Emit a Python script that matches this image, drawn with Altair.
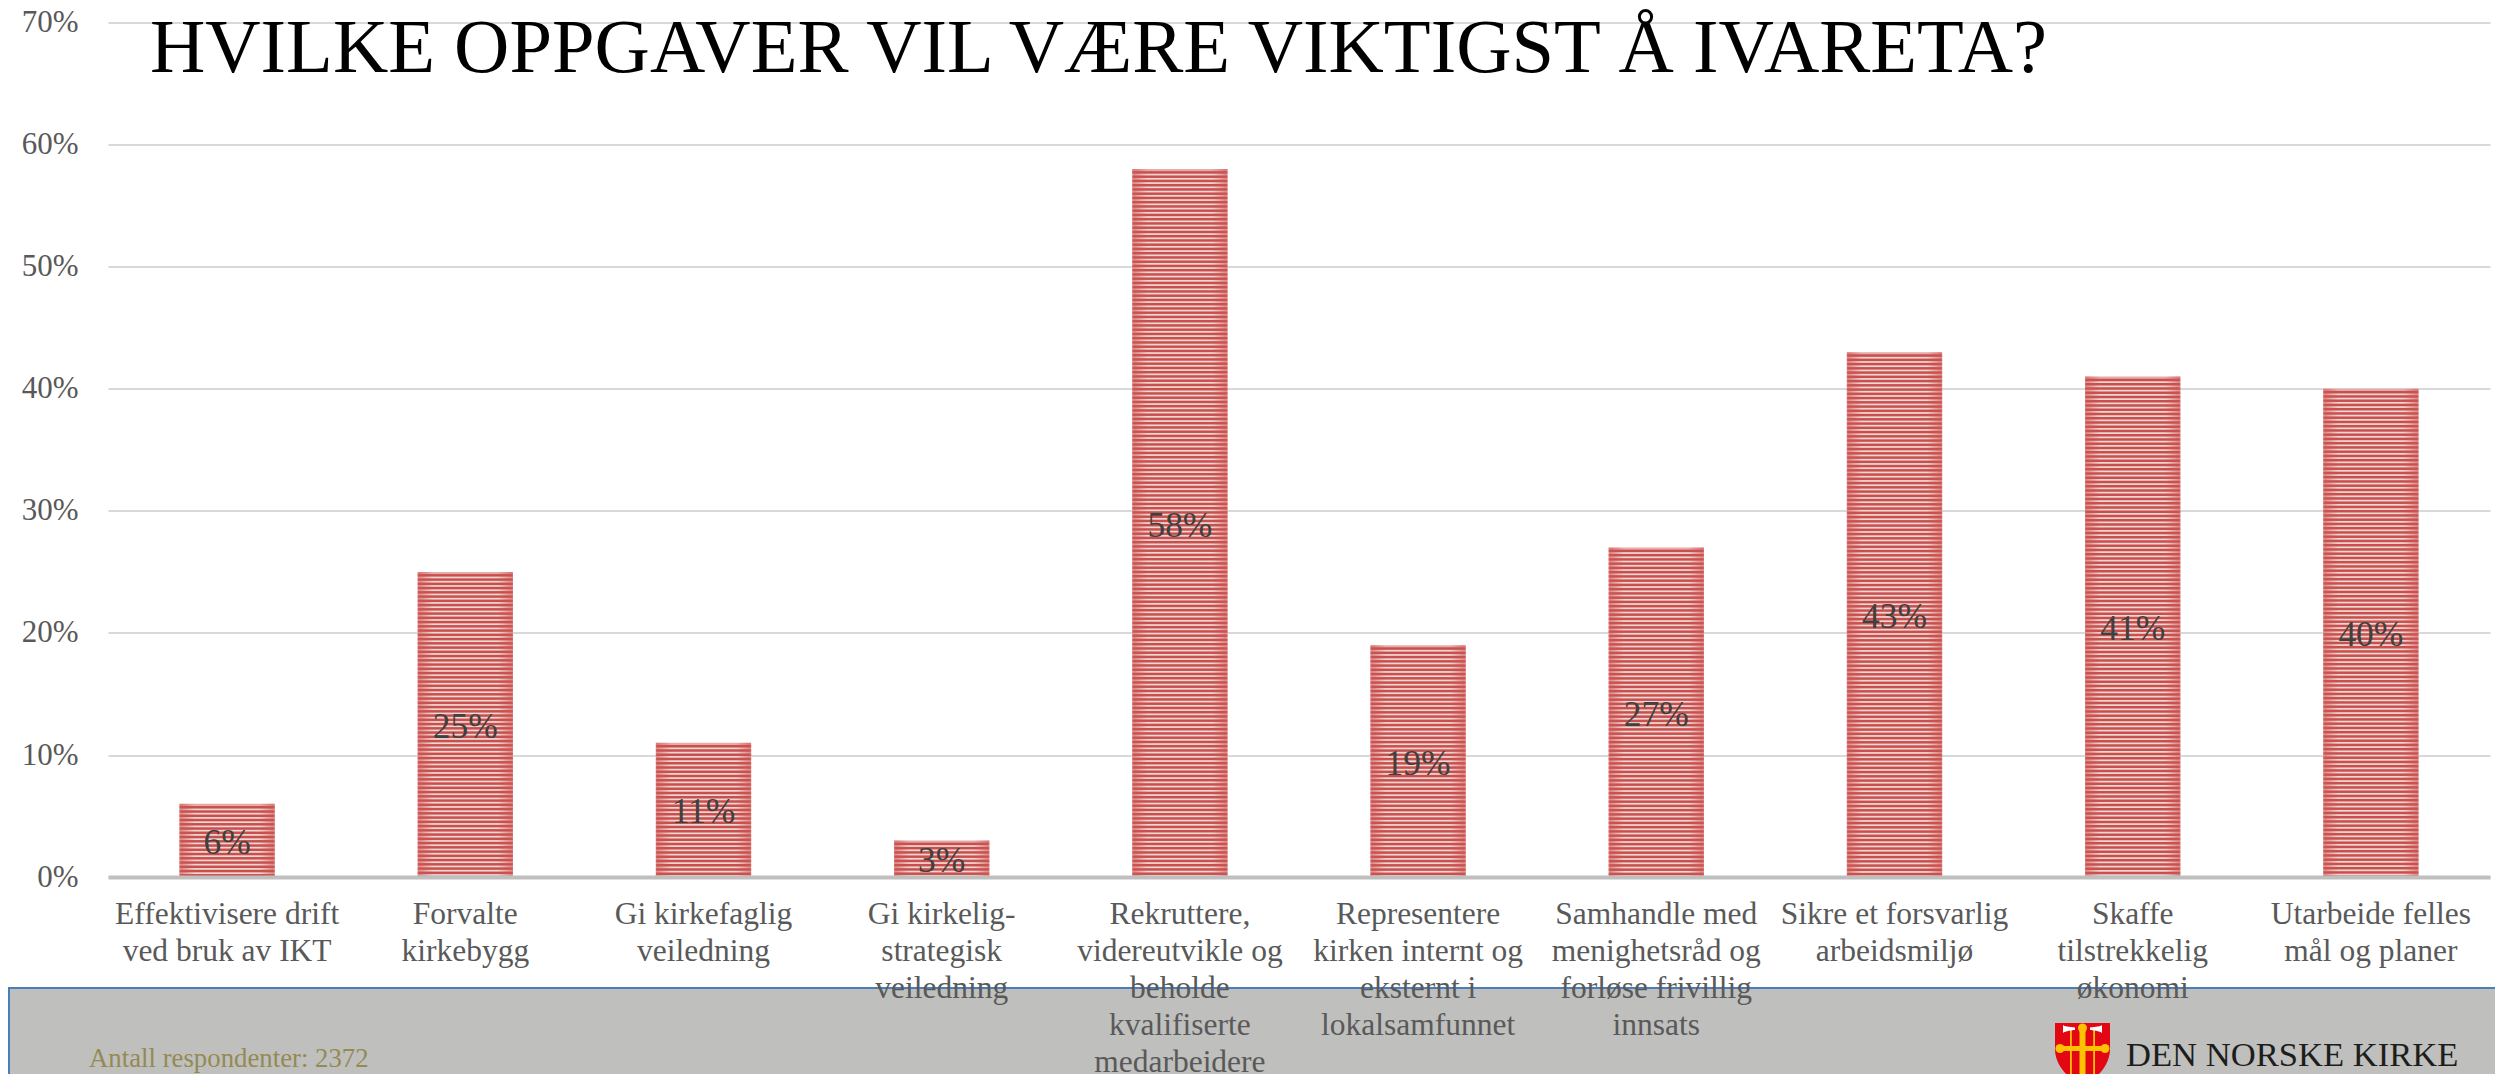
import altair as alt
import pandas as pd
from urllib.parse import quote

categories = [
    "Effektivisere drift\nved bruk av IKT",
    "Forvalte\nkirkebygg",
    "Gi kirkefaglig\nveiledning",
    "Gi kirkelig-\nstrategisk\nveiledning",
    "Rekruttere,\nvidereutvikle og\nbeholde\nkvalifiserte\nmedarbeidere",
    "Representere\nkirken internt og\neksternt i\nlokalsamfunnet",
    "Samhandle med\nmenighetsråd og\nforløse frivillig\ninnsats",
    "Sikre et forsvarlig\narbeidsmiljø",
    "Skaffe\ntilstrekkelig\nøkonomi",
    "Utarbeide felles\nmål og planer",
]
values = [0.06, 0.25, 0.11, 0.03, 0.58, 0.19, 0.27, 0.43, 0.41, 0.40]
title_text = "HVILKE OPPGAVER VIL VÆRE VIKTIGST Å IVARETA?"
footer_text = "Antall respondenter: 2372"
logo_text = "DEN NORSKE KIRKE"

LEFT, TOP, W, H = 108, 22.5, 2382, 854.6
SERIF = "Liberation Serif"


def px(x):
    return x - LEFT


def py(y):
    return y - TOP


df = pd.DataFrame({"cat": categories, "val": values})

x_enc = alt.X(
    "cat:N",
    sort=None,
    title=None,
    scale=alt.Scale(paddingInner=0.6, paddingOuter=0.3),
    axis=alt.Axis(
        labelAngle=0,
        labelExpr="split(datum.label, '\\n')",
        labelFont=SERIF,
        labelFontSize=31.5,
        labelColor="#595959",
        labelLineHeight=37,
        labelPadding=21.5,
        labelLimit=0,
        labelOverlap=False,
        ticks=False,
        domainColor="#bfbfbf",
        domainWidth=4,
        grid=False,
        zindex=1,
    ),
)
y_enc = alt.Y(
    "val:Q",
    title=None,
    scale=alt.Scale(domain=[0, 0.7], nice=False),
    axis=alt.Axis(
        values=[0, 0.1, 0.2, 0.3, 0.4, 0.5, 0.6, 0.7],
        format=".0%",
        labelFont=SERIF,
        labelFontSize=31,
        labelColor="#595959",
        labelPadding=30,
        ticks=False,
        domain=False,
        gridColor="#d9d9d9",
        gridWidth=2,
    ),
)


def stripe_gradient(v):
    h = v / 0.7 * H
    period, dark, soft = 4.25, 2.5, 0.5
    light_col, dark_col = "#efd6d0", "#c94f4f"
    cap = 2.2

    def off(p):
        return min(p / h, 1)

    stops = [
        alt.GradientStop(offset=0, color="#e6aaa8"),
        alt.GradientStop(offset=off(cap - soft), color="#e6aaa8"),
    ]
    pos = cap
    while pos < h:
        stops += [
            alt.GradientStop(offset=off(pos + soft), color=dark_col),
            alt.GradientStop(offset=off(pos + dark - soft), color=dark_col),
            alt.GradientStop(offset=off(pos + dark + soft), color=light_col),
            alt.GradientStop(offset=off(pos + period - soft), color=light_col),
        ]
        pos += period
    return alt.Gradient(gradient="linear", x1=0, x2=0, y1=0, y2=1, stops=stops)


edge_gradient = alt.Gradient(
    gradient="linear",
    x1=0,
    x2=1,
    y1=0,
    y2=0,
    stops=[
        alt.GradientStop(offset=0, color="rgba(214,110,108,0.65)"),
        alt.GradientStop(offset=0.02, color="rgba(205,85,83,0.55)"),
        alt.GradientStop(offset=0.16, color="rgba(205,85,83,0)"),
        alt.GradientStop(offset=0.84, color="rgba(205,85,83,0)"),
        alt.GradientStop(offset=0.98, color="rgba(205,85,83,0.55)"),
        alt.GradientStop(offset=1, color="rgba(214,110,108,0.65)"),
    ],
)

shield_svg = (
    "<svg xmlns='http://www.w3.org/2000/svg' viewBox='0 0 55 64'>"
    "<path d='M0 0H55V26C55 44 40 56 27.5 64C15 56 0 44 0 26Z' fill='#e30613'/>"
    "<rect x='24.5' y='3' width='6' height='61' fill='#fdc300'/>"
    "<circle cx='27.5' cy='5' r='4.5' fill='#fdc300'/>"
    "<rect x='5' y='23' width='45' height='5' fill='#fdc300'/>"
    "<circle cx='5' cy='25.5' r='4.5' fill='#fdc300'/>"
    "<circle cx='50' cy='25.5' r='4.5' fill='#fdc300'/>"
    "<rect x='15' y='6' width='1.8' height='46' fill='#fdc300'/>"
    "<rect x='38.2' y='6' width='1.8' height='46' fill='#fdc300'/>"
    "<path d='M8 2C10 4 18 4 20 4.5V7C18 7 10 8 8 10Z' fill='#fff'/>"
    "<path d='M47 2C45 4 37 4 35 4.5V7C37 7 45 8 47 10Z' fill='#fff'/>"
    "</svg>"
)
shield_url = "data:image/svg+xml;charset=utf-8," + quote(shield_svg)

one = pd.DataFrame({"a": [1]})

footer = alt.Chart(one).mark_rect(color="#bfbfbd").encode(
    x=alt.value(-100), x2=alt.value(W + 30), y=alt.value(py(988)), y2=alt.value(py(1085))
)
footer_top = alt.Chart(one).mark_rule(color="#4a7ebb", strokeWidth=2).encode(
    x=alt.value(-100), x2=alt.value(W + 30), y=alt.value(py(988))
)
footer_left = alt.Chart(one).mark_rule(color="#4a7ebb", strokeWidth=2).encode(
    x=alt.value(-99), y=alt.value(py(988)), y2=alt.value(py(1085))
)

bar_layers = []
for cat, val in zip(categories, values):
    sub = df[df["cat"] == cat]
    bar_layers.append(
        alt.Chart(sub).mark_bar(fill=stripe_gradient(val)).encode(x=x_enc, y=y_enc)
    )
    bar_layers.append(
        alt.Chart(sub).mark_bar(fill=edge_gradient).encode(x=x_enc, y=y_enc)
    )

bar_labels = (
    alt.Chart(df)
    .transform_calculate(mid="datum.val / 2")
    .mark_text(font=SERIF, fontSize=35.5, color="#404040", baseline="middle", dy=2.5)
    .encode(x=x_enc, y=alt.Y("mid:Q"), text=alt.Text("val:Q", format=".0%"))
)

title = alt.Chart(pd.DataFrame({"t": [title_text]})).mark_text(
    font=SERIF, fontSize=76.6, color="#000000", align="left", baseline="alphabetic"
).encode(x=alt.value(px(150)), y=alt.value(py(72)), text="t:N")

footer_label = alt.Chart(pd.DataFrame({"t": [footer_text]})).mark_text(
    font=SERIF, fontSize=26.8, color="#948a54", align="left", baseline="alphabetic"
).encode(x=alt.value(px(89)), y=alt.value(py(1067)), text="t:N")

logo_label = alt.Chart(pd.DataFrame({"t": [logo_text]})).mark_text(
    font=SERIF, fontSize=34.6, color="#1d1d1b", align="left", baseline="alphabetic"
).encode(x=alt.value(px(2126)), y=alt.value(py(1066)), text="t:N")

logo = alt.Chart(pd.DataFrame({"u": [shield_url]})).mark_image(
    width=55, height=64, align="left", baseline="top", aspect=False
).encode(x=alt.value(px(2055)), y=alt.value(py(1023)), url="u:N")

chart = alt.layer(
    footer, footer_top, footer_left, *bar_layers, bar_labels, title, footer_label, logo_label, logo
).properties(
    width=W,
    height=H,
    padding={"left": LEFT - 8, "top": TOP - 8, "right": 5, "bottom": 197},
    autosize=alt.AutoSizeParams(type="none"),
    background="#ffffff",
).configure_view(stroke=None)

chart.save("out.html", embed_options={"renderer": "svg", "actions": False})
